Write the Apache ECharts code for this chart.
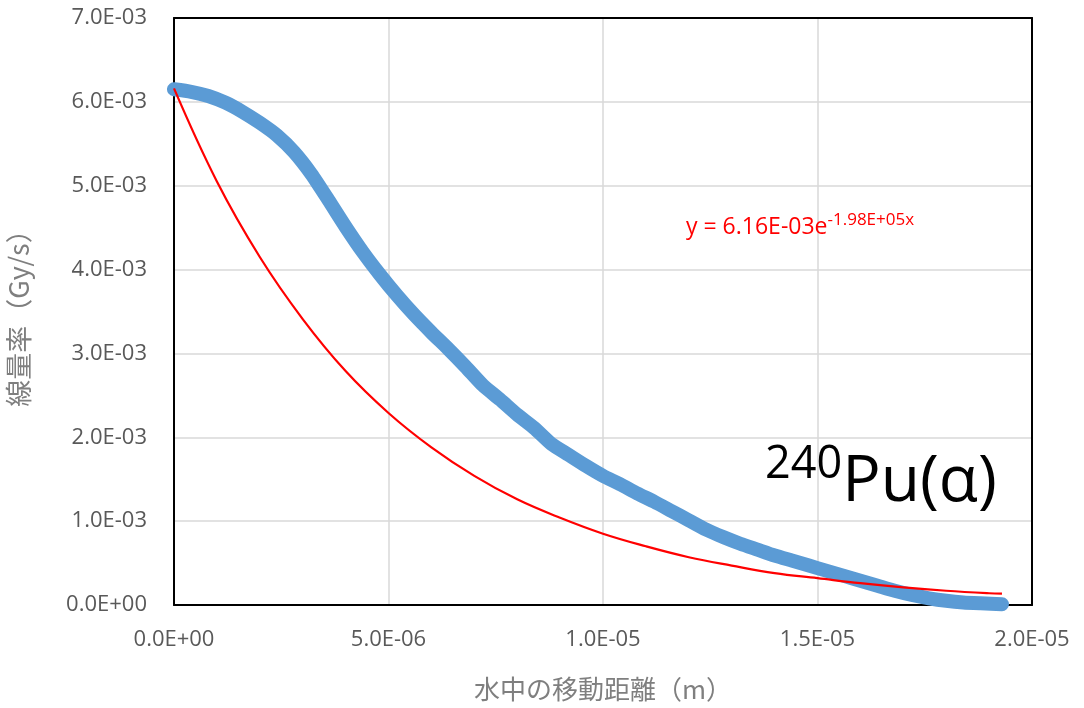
<!DOCTYPE html>
<html>
<head>
<meta charset="utf-8">
<script src="https://cdn.jsdelivr.net/npm/echarts@6/dist/echarts.min.js"></script>
<style>
  html, body { margin: 0; padding: 0; background: #fff; }
  #chart { width: 1084px; height: 708px; }
</style>
</head>
<body>
<div id="chart"></div>
<script>
// Measured dose rate in water vs. travel distance (distance in µm, dose rate in mGy/s)
var measuredDistUm = [0, 0.4, 0.8, 1.2, 1.6, 2.0, 2.4, 2.8, 3.2, 3.6, 4.0, 4.4, 4.8, 5.2, 5.6, 6.0,
  6.4, 6.8, 7.2, 7.6, 8.0, 8.4, 8.8, 9.2, 9.6, 10.0, 10.4, 10.8, 11.2, 11.6, 12.0, 12.4, 12.8,
  13.2, 13.6, 14.0, 14.4, 14.8, 15.2, 15.6, 16.0, 16.4, 16.8, 17.2, 17.6, 18.0, 18.4, 18.8, 19.3];
var measuredDoseMGy = [6.15, 6.12, 6.07, 5.99, 5.88, 5.75, 5.60, 5.40, 5.14, 4.83, 4.51, 4.21,
  3.94, 3.69, 3.46, 3.25, 3.05, 2.84, 2.62, 2.45, 2.27, 2.11, 1.92, 1.79, 1.66, 1.54, 1.44, 1.33,
  1.23, 1.12, 1.01, 0.90, 0.81, 0.73, 0.66, 0.59, 0.53, 0.47, 0.41, 0.35, 0.29, 0.23, 0.17, 0.12,
  0.08, 0.05, 0.03, 0.02, 0.01];

// Exponential trendline readings (same units)
var fitDistUm = [0, 1, 2, 3, 4, 5, 6, 7, 8, 9, 10, 11, 12, 13, 14, 15, 16, 17, 18, 19, 19.3];
var fitDoseMGy = [6.16, 5.05, 4.15, 3.41, 2.79, 2.29, 1.88, 1.54, 1.26, 1.04, 0.85, 0.70, 0.57,
  0.47, 0.38, 0.32, 0.26, 0.21, 0.17, 0.14, 0.135];

var fitLabelCoef = '6.16E-03';
var fitLabelExp = '-1.98E+05x';
var nuclideMass = '240';
var nuclideName = 'Pu(α)';
var xAxisName = '水中の移動距離（m）';
var yAxisName = '線量率（Gy/s）';

function toPairs(xs, ys) {
  return xs.map(function (x, i) { return [x * 1e-6, ys[i] * 1e-3]; });
}

function sci(v) {
  if (Math.abs(v) < 1e-15) return '0.0E+00';
  var e = Math.floor(Math.log10(Math.abs(v)) + 1e-9);
  var m = v / Math.pow(10, e);
  var s = e < 0 ? '-' : '+';
  var a = Math.abs(e);
  return m.toFixed(1) + 'E' + s + (a < 10 ? '0' + a : a);
}

var chart = echarts.init(document.getElementById('chart'));
var labelFont = '"Open Sans", "Noto Sans", sans-serif';
var cjkFont = '"Noto Sans CJK JP", "Noto Sans", sans-serif';
var frameLine = { show: true, onZero: false, lineStyle: { color: '#000000', width: 2 } };
var gridLine = { lineStyle: { color: '#d9d9d9', width: 1.5 } };

chart.setOption({
  animation: false,
  backgroundColor: '#ffffff',
  grid: {
    left: 174, right: 52, top: 18, bottom: 103,
    outerBoundsMode: 'none', containLabel: false
  },
  xAxis: [
    {
      type: 'value', min: 0, max: 2e-5, interval: 5e-6,
      name: xAxisName, nameLocation: 'middle', nameGap: 71,
      nameTextStyle: { fontFamily: cjkFont, fontSize: 26, color: '#7f7f7f' },
      axisLine: frameLine, axisTick: { show: false },
      axisLabel: { formatter: sci, fontFamily: labelFont, fontSize: 22, color: '#595959', margin: 24 },
      splitLine: gridLine
    },
    {
      type: 'value', position: 'top', min: 0, max: 2e-5, interval: 5e-6,
      axisLine: frameLine, axisTick: { show: false }, axisLabel: { show: false },
      splitLine: { show: false }
    }
  ],
  yAxis: [
    {
      type: 'value', min: 0, max: 7e-3, interval: 1e-3,
      name: yAxisName, nameLocation: 'middle', nameGap: 142,
      nameTextStyle: { fontFamily: cjkFont, fontSize: 27, color: '#7f7f7f' },
      axisLine: frameLine, axisTick: { show: false },
      axisLabel: { formatter: sci, fontFamily: labelFont, fontSize: 22, color: '#595959', margin: 27 },
      splitLine: gridLine
    },
    {
      type: 'value', position: 'right', min: 0, max: 7e-3, interval: 1e-3,
      axisLine: frameLine, axisTick: { show: false }, axisLabel: { show: false },
      splitLine: { show: false }
    }
  ],
  series: [
    {
      name: 'measured', type: 'line', data: toPairs(measuredDistUm, measuredDoseMGy),
      showSymbol: false, smooth: 0.2, clip: false, z: 3,
      lineStyle: { color: '#5b9bd5', width: 14, cap: 'round', join: 'round' }
    },
    {
      name: 'fit', type: 'line', data: toPairs(fitDistUm, fitDoseMGy),
      showSymbol: false, smooth: 0.4, z: 4,
      lineStyle: { color: '#ff0000', width: 2.2 }
    }
  ],
  graphic: [
    {
      type: 'text', left: 686, top: 212, z: 10,
      style: {
        text: '{b|y = ' + fitLabelCoef + 'e}{s|' + fitLabelExp + '}',
        rich: {
          b: { fontFamily: labelFont, fontSize: 23, fill: '#ff0000', lineHeight: 31 },
          s: { fontFamily: labelFont, fontSize: 17, fill: '#ff0000', lineHeight: 19, verticalAlign: 'top' }
        }
      }
    },
    {
      type: 'text', left: 765, top: 443, z: 10,
      style: {
        text: '{s|' + nuclideMass + '}{b|' + nuclideName + '}',
        rich: {
          s: { fontFamily: labelFont, fontSize: 45, fill: '#000000', lineHeight: 42, verticalAlign: 'top' },
          b: { fontFamily: labelFont, fontSize: 64, fill: '#000000', lineHeight: 80 }
        }
      }
    }
  ]
});
</script>
</body>
</html>
